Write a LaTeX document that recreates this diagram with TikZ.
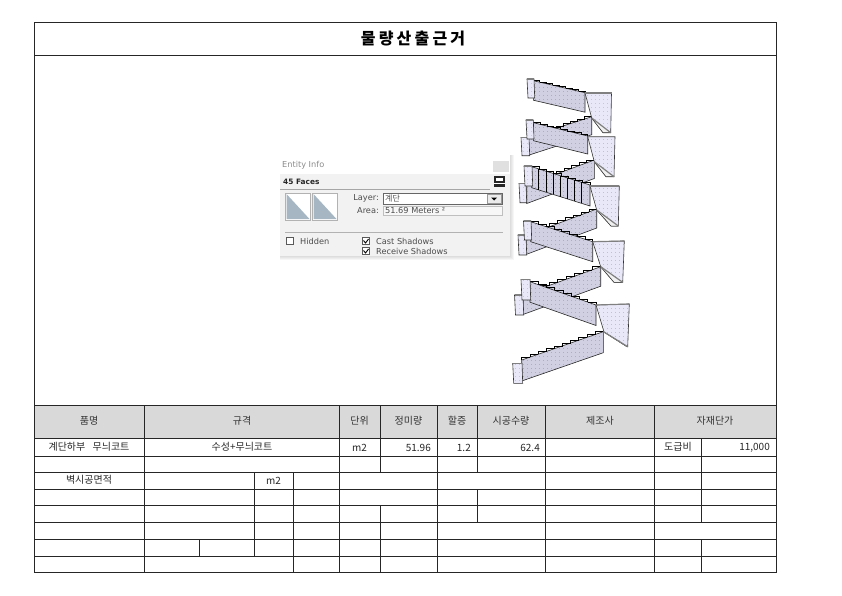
\documentclass[tikz,border=0pt]{standalone}
\usepackage{fontspec}
\setmainfont{Noto Sans CJK KR}
\newfontfamily\panelfont{DejaVu Sans}
\newfontfamily\panelcjk{Noto Sans CJK KR}
\usetikzlibrary{patterns.meta}
\definecolor{soffitcol}{HTML}{D0D0E2}
\definecolor{landcol}{HTML}{E8E8F8}
\definecolor{headcol}{HTML}{D9D9D9}
\definecolor{swatchcol}{HTML}{A6B6C2}
\tikzset{
	cell/.style={font=\fontsize{10}{11}\selectfont,text=black!85,inner sep=0pt},
	head/.style={font=\fontsize{10}{11}\selectfont,text=black!80,inner sep=0pt},
	rule/.style={line width=0.8pt,black!85},
	soffit/.style={fill=soffitcol,postaction={pattern={Dots[distance=4pt,radius=0.35pt]},pattern color=black!50},draw=black!85,line width=0.6pt},
	landing/.style={fill=landcol,postaction={pattern={Dots[distance=4pt,radius=0.35pt]},pattern color=black!45},draw=black!80,line width=0.6pt},
	stepline/.style={draw=black,line width=0.7pt},
	topedge/.style={black!50,line width=1.2pt},
	panel/.style={font=\panelfont\fontsize{8.2}{9}\selectfont,text=black!70,inner sep=0pt},
	tick/.style={draw=black!65,fill=white,minimum size=7pt,inner sep=0pt,line width=0.4pt},
}
% x1 y1 x2 y2 drop steps path
\newcommand{\flight}[7]{
	\draw[soffit] (#1,#2) -- (#3,#4) -- (#3,#4+#5) -- (#1,#2+#5) -- cycle;
	\foreach \i in {1,...,#6} {
		\pgfmathsetmacro{\xa}{#1+(#3-#1)*(\i-1)/#6}
		\pgfmathsetmacro{\ya}{#2+(#4-#2)*(\i-1)/#6}
		\pgfmathsetmacro{\xb}{#1+(#3-#1)*\i/#6}
		\pgfmathsetmacro{\yb}{#2+(#4-#2)*\i/#6}
		\draw[stepline] (\xa,\ya) #7 (\xb,\yb);
	}
}
% left right top bottom
\newcommand{\postend}[4]{
	\draw[landing] (#1,#3) -- (#2,#3) -- (#2+0.7,#4) -- (#1+1,#4) -- cycle;
	\draw[topedge] (#1,#3) -- (#2,#3);
}
% xl yl xr yr xbr ybr xb xd yd yll
\newcommand{\landpanel}[9]{
	\draw[landing] (#1,#2) -- (#3,#4) -- (#5,#6) -- (#7,#6) -- (#8,#9) -- cycle;
	\fill[black!6] (#5,#6) -- (#7,#6) -- (#8,#9) -- cycle;
	\draw[black!80,line width=0.5pt] (#5,#6) -- (#7,#6) -- (#8,#9);
	\draw[topedge] (#1,#2) -- (#3,#4);
	\draw[topedge] (#8,#9) -- (#5,#6);
}
\begin{document}
\begin{tikzpicture}[x=1pt,y=-1pt]
	\useasboundingbox (0,0) rectangle (842,595);
	\fill[headcol] (34,405) rectangle (776,438);
	% stairs
	\flight{528.3}{137.3}{591.7}{116.7}{18}{9}{|-}
	\flight{533.3}{80.7}{585}{92.7}{19.5}{8}{-|}
	\postend{527}{534}{79}{98}
	\landpanel{585}{93}{611.5}{93}{610.7}{132.7}{603}{591.7}{118}
	\postend{521}{529}{137.3}{155.7}
	\flight{526.7}{185}{594.3}{160}{18.5}{9}{|-}
	\flight{533.3}{122.7}{587.7}{136}{18}{8}{-|}
	\postend{526}{533.3}{120}{139}
	\landpanel{587.7}{136.7}{615}{136.7}{614}{176.7}{606}{594.3}{161.7}
	\postend{519}{526}{183.3}{202.7}
	\flight{526}{235.5}{596.7}{209}{19}{9}{|-}
	\flight{531.7}{166.7}{590}{185}{21}{8}{-|}
	\foreach \x in {538.7,546,553,560,567,574,581.5} {
		\pgfmathsetmacro{\yt}{166.7+(\x-531.7)*0.314}
		\draw[stepline] (\x,\yt) -- (\x,\yt+21);
	}
	\postend{524}{532}{166}{186}
	\landpanel{590}{186}{619.3}{186}{618.3}{226}{611}{596.7}{210}
	\postend{518}{526}{235}{255}
	\flight{523}{295}{600.7}{266.7}{19.5}{9}{|-}
	\flight{530.7}{221.7}{592.7}{241.7}{20}{8}{-|}
	\postend{523.5}{531}{221}{240}
	\landpanel{592.7}{241.7}{624.3}{241}{622.7}{282.3}{614}{600.7}{266.7}
	\postend{514.5}{523}{295}{315}
	\flight{530}{281.7}{596}{305}{20.5}{8}{-|}
	\postend{521}{530}{279.5}{300}
	\landpanel{596}{305}{629.3}{304}{627.7}{346.7}{627}{604}{332}
	\flight{521.7}{360}{603.3}{331.7}{21}{10}{|-}
	\postend{512.7}{522}{363.3}{383.3}
	% entity info panel
	\foreach \g in {4,3,2,1} {
		\fill[black,opacity=0.035] (280,155) rectangle (510+\g,256+\g);
	}
	\fill[white] (280,155) rectangle (510,256);
	\fill[black!5] (280,174) rectangle (510,256);
	\fill[black!12] (493,161) rectangle (509,172);
	\node[panel,anchor=west,text=black!45] (paneltitle) at (282,165) {Entity Info};
	\node[panel,anchor=west,text=black!85,font=\panelfont\bfseries\fontsize{7.4}{8}\selectfont] (facecount) at (283,181.5) {45 Faces};
	\draw[black!35,line width=0.4pt] (280,189) -- (490,189);
	\fill[black!85] (494,176) rectangle (505,187);
	\fill[white] (496,177.5) rectangle (503,180.5);
	\fill[white] (494,182.5) rectangle (505,183.5);
	\foreach \x in {285.5,312.5} {
		\draw[black!30,fill=white,line width=0.6pt] (\x,193) rectangle (\x+25,220);
		\fill[swatchcol] (\x+1,194) -- (\x+24,219) -- (\x+1,219) -- cycle;
	}
	\node[panel,anchor=east] (layerlabel) at (379,198) {Layer:};
	\node[panel,anchor=east] (arealabel) at (379,211) {Area:};
	\draw[black!60,fill=white,line width=0.4pt] (383,193) rectangle (502,204);
	\draw[black!25,fill=black!3,line width=0.4pt] (383,206) rectangle (502,215.5);
	\node[panel,anchor=west,font=\panelcjk\fontsize{8}{9}\selectfont] (layername) at (385,198) {계단};
	\node[panel,anchor=west] (areavalue) at (385,211) {51.69 Meters ²};
	\draw[black!40,fill=black!8,line width=0.4pt] (487,194.5) rectangle (501,203);
	\fill[black] (491,197.5) -- (497,197.5) -- (494,200.5) -- cycle;
	\draw[black!30,line width=0.4pt] (285,232.5) -- (503,232.5);
	\node[tick] (hiddenbox) at (290,241) {};
	\node[panel,anchor=west] (hiddenlabel) at (300,241) {Hidden};
	\node[tick] (castbox) at (366,241) {};
	\node[panel,anchor=west] (castlabel) at (376,241) {Cast Shadows};
	\node[tick] (recvbox) at (366,251) {};
	\node[panel,anchor=west] (recvlabel) at (376,251) {Receive Shadows};
	\foreach \y in {241,251} {
		\draw[black,line width=0.9pt] (363.5,\y-0.5) -- (365.5,\y+2) -- (368.5,\y-2);
	}
	% frame and table
	\draw[rule,line width=1pt] (34,22) rectangle (776,572);
	\draw[rule] (34,55) -- (776,55);
	\foreach \y in {405,438,456,472,489,505,522,539,556} {
		\draw[rule] (34,\y) -- (776,\y);
	}
	\foreach \ya/\yb/\cols in {
		405/438/{144.5,339,380,437,477,545,654.5},
		438/456/{144.5,339,380,437,477,545,654.5,701},
		456/472/{144.5,339,380,437,477,545,654.5,701},
		472/489/{144.5,254,293,339,437,545,654.5,701},
		489/505/{144.5,254,293,339,437,477,545,654.5,701},
		505/522/{144.5,254,293,339,380,437,477,545,654.5,701},
		522/539/{144.5,254,293,339,380,437,545,654.5},
		539/556/{144.5,199,254,293,339,380,437,545,654.5,701},
		556/572/{144.5,293,339,380,437,545,654.5,701}} {
		\foreach \x in \cols {
			\draw[rule] (\x,\ya) -- (\x,\yb);
		}
	}
	\node[font=\bfseries\fontsize{16}{18}\selectfont\addfontfeature{LetterSpace=20},text=black] (title) at (413,38.5) {물량산출근거};
	\node[head] (hname) at (89,421) {품명};
	\node[head] (hspec) at (242,421) {규격};
	\node[head] (hunit) at (359.5,421) {단위};
	\node[head] (hnet) at (408.5,421) {정미량};
	\node[head] (hextra) at (457,421) {할증};
	\node[head] (hqty) at (511,421) {시공수량};
	\node[head] (hmaker) at (600,421) {제조사};
	\node[head] (hprice) at (715,421) {자재단가};
	\node[cell] (itemname) at (89,446.5) {계단하부\hspace{5pt} 무늬코트};
	\node[cell] (itemspec) at (242,446.5) {수성+무늬코트};
	\node[cell] (itemunit) at (359.5,447.5) {m2};
	\node[cell,anchor=east] (itemnet) at (431,447.5) {51.96};
	\node[cell,anchor=east] (itemextra) at (471,447.5) {1.2};
	\node[cell,anchor=east] (itemqty) at (540,447.5) {62.4};
	\node[cell] (itemcost) at (678,447) {도급비};
	\node[cell,anchor=east] (itemprice) at (770,447.5) {11,000};
	\node[cell] (wallname) at (89,480) {벽시공면적};
	\node[cell] (wallunit) at (273.5,480.5) {m2};
\end{tikzpicture}
\end{document}
